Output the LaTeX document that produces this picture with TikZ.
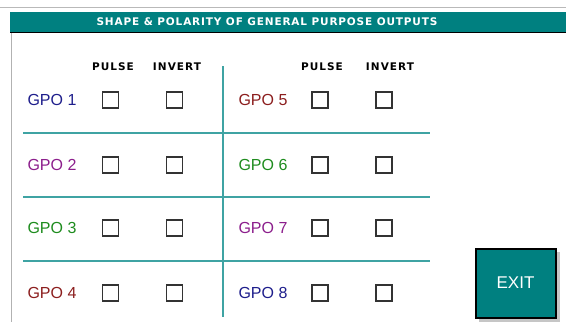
\documentclass[tikz,border=0pt]{standalone}
\usepackage{fontspec}
\setmainfont{Liberation Sans}
\newfontfamily\hdrfont[LetterSpace=10]{DejaVu Sans Bold}
\newfontfamily\ttlfont[LetterSpace=8]{DejaVu Sans Bold}
\definecolor{teal0}{HTML}{008080}
\definecolor{gridc}{HTML}{3FA3A3}
\definecolor{gblue}{HTML}{1E1E8C}
\definecolor{gpurp}{HTML}{8C1E8C}
\definecolor{ggreen}{HTML}{1E8C1E}
\definecolor{gred}{HTML}{8C1E1E}
\definecolor{boxc}{HTML}{333333}
\begin{document}
\begin{tikzpicture}[x=1pt,y=-1pt,
  hdr/.style={font=\hdrfont\fontsize{10.5}{12}\selectfont, text=black, inner sep=0pt},
  gpo/.style={font=\fontsize{16}{18}\selectfont, inner sep=0pt},
  cbox/.style={draw=boxc, line width=1.3pt, minimum width=16pt, minimum height=16pt, inner sep=0pt},
  gridline/.style={draw=gridc, line width=1.4pt}]
\useasboundingbox (0,0) rectangle (566,322);
\fill[white] (0,0) rectangle (566,322);
% top gray line
\draw[gray!55, line width=1pt] (0,7) -- (566,7);
% title bar
\fill[teal0] (10,12) rectangle (566,32);
\draw[black, line width=1.6pt] (10,32.5) -- (566,32.5);
\node[font=\ttlfont\fontsize{10.5}{12}\selectfont, text=white, inner sep=0pt] (title) at (267,22) {SHAPE \& POLARITY OF GENERAL PURPOSE OUTPUTS};
% left border
\draw[gray!60, line width=1pt] (11,33) -- (11,322);
% grid
\coordinate (vt) at (223,66);
\coordinate (vb) at (223,317);
\draw[gridline] (vt) -- (vb);
\foreach \yy/\n in {133/a,197/b,261/c}{
  \coordinate (hl\n) at (23,\yy);
  \coordinate (hr\n) at (430,\yy);
  \draw[gridline] (hl\n) -- (hr\n);
}
% headers
\node[hdr] (hp1) at (113,67) {PULSE};
\node[hdr] (hi1) at (177,67) {INVERT};
\node[hdr] (hp2) at (322,67) {PULSE};
\node[hdr] (hi2) at (390,67) {INVERT};
% rows
\foreach \yy/\i/\ca/\j/\cb in {100/1/gblue/5/gred, 165/2/gpurp/6/ggreen, 228/3/ggreen/7/gpurp, 293/4/gred/8/gblue}{
  \node[gpo, text=\ca] (g\i) at (52,\yy) {GPO \i};
  \node[cbox] (p\i) at (110.5,\yy) {};
  \node[cbox] (v\i) at (174.5,\yy) {};
  \node[gpo, text=\cb] (g\j) at (263,\yy) {GPO \j};
  \node[cbox] (p\j) at (320,\yy) {};
  \node[cbox] (v\j) at (384,\yy) {};
}
% exit button
\fill[gray!45] (479,252) rectangle (560,322);
\node[draw=black, line width=2pt, fill=teal0, minimum width=80pt, minimum height=69pt, inner sep=0pt,
  text=white, font=\fontsize{17}{20}\selectfont] (exit) at (515.5,283) {EXIT};
\end{tikzpicture}
\end{document}
